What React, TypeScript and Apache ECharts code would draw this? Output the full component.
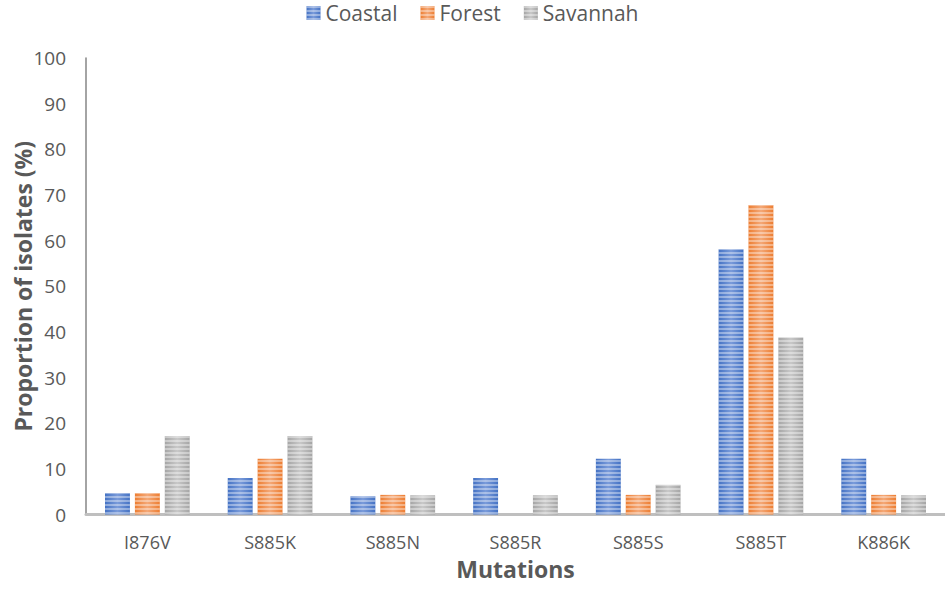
import React, { useEffect, useRef } from "react";
import * as echarts from "echarts";

const categories = ["I876V", "S885K", "S885N", "S885R", "S885S", "S885T", "K886K"];
const coastal = [4.7, 8.0, 4.0, 8.0, 12.2, 58.1, 12.2];
const forest = [4.7, 12.2, 4.3, 0, 4.3, 67.8, 4.3];
const savannah = [17.2, 17.2, 4.2, 4.2, 6.5, 38.8, 4.2];
const yTicks = { min: 0, max: 100, interval: 10 };

const FONT = "'Open Sans', 'Noto Sans', sans-serif";
const TEXT = "#595959";

function barColor(base: string, light: string) {
  return new echarts.graphic.LinearGradient(0, 0, 1, 0, [
    { offset: 0, color: base },
    { offset: 0.5, color: light },
    { offset: 1, color: base },
  ]);
}

const stripes = {
  symbol: "rect",
  symbolSize: 1,
  dashArrayX: [1, 0],
  dashArrayY: [1.6, 1.6],
  rotation: 0,
  color: "rgba(255,255,255,0.38)",
};

export default function App() {
  const ref = useRef<HTMLDivElement>(null);
  useEffect(() => {
    if (!ref.current) return;
    const chart = echarts.init(ref.current, null, { renderer: "svg" });
    const mk = (name: string, data: number[], base: string, light: string) => ({
      name,
      type: "bar",
      data,
      barGap: "20%",
      barCategoryGap: "31%",
      itemStyle: { color: barColor(base, light), decal: stripes },
    });
    chart.setOption({
      animation: false,
      textStyle: { fontFamily: FONT },
      legend: {
        top: 2,
        left: "center",
        padding: 0,
        itemWidth: 14,
        itemHeight: 14,
        itemGap: 23,
        icon: "rect",
        textStyle: { fontSize: 21, lineHeight: 22, color: TEXT, fontFamily: FONT },
        data: ["Coastal", "Forest", "Savannah"],
      },
      grid: {
        left: 86,
        right: 0,
        top: 58,
        bottom: 75.5,
        containLabel: false,
        outerBoundsMode: "none",
      },
      xAxis: {
        type: "category",
        data: categories,
        name: "Mutations",
        nameLocation: "middle",
        nameGap: 43,
        nameMoveOverlap: false,
        nameTextStyle: { fontSize: 23, fontWeight: "bold", color: TEXT, fontFamily: FONT },
        axisLine: { show: true, lineStyle: { color: "#BFBFBF", width: 3 } },
        axisTick: { show: false },
        axisLabel: { fontSize: 18, color: TEXT, margin: 18, fontFamily: FONT },
      },
      yAxis: {
        type: "value",
        min: yTicks.min,
        max: yTicks.max,
        interval: yTicks.interval,
        name: "Proportion of isolates (%)",
        nameLocation: "middle",
        nameGap: 52,
        nameMoveOverlap: false,
        nameTextStyle: { fontSize: 23, fontWeight: "bold", color: TEXT, fontFamily: FONT },
        axisLine: { show: true, lineStyle: { color: "#868686", width: 1.5 } },
        axisTick: { show: false },
        splitLine: { show: false },
        axisLabel: { fontSize: 19, color: TEXT, margin: 20, fontFamily: FONT },
      },
      series: [
        mk("Coastal", coastal, "#4472C4", "#7A9BDA"),
        mk("Forest", forest, "#ED7D31", "#F4A877"),
        mk("Savannah", savannah, "#A5A5A5", "#C8C8C8"),
      ],
    });
    return () => chart.dispose();
  }, []);
  return (
    <div
      ref={ref}
      style={{ position: "absolute", left: 0, top: 0, width: 945, height: 590, background: "#fff" }}
    />
  );
}
